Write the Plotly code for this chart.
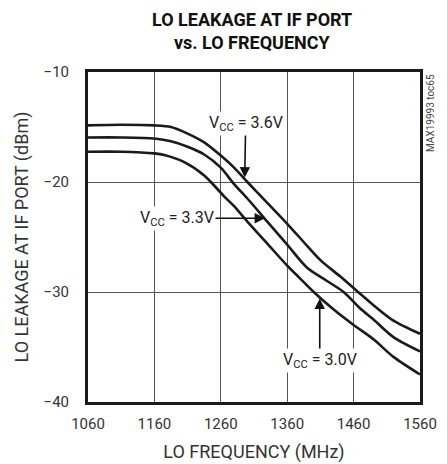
import plotly.graph_objects as go

# LO frequency (MHz) and LO leakage (dBm) per supply voltage
freq_36 = [1060, 1110, 1160, 1185, 1210, 1235, 1260, 1280, 1300, 1330, 1360, 1390, 1410, 1440, 1465, 1490, 1520, 1560]
leak_36 = [-14.85, -14.8, -14.85, -15.0, -15.6, -16.4, -17.6, -18.7, -20.0, -21.9, -23.8, -25.8, -27.1, -28.6, -29.9, -31.2, -32.6, -33.8]

freq_33 = [1060, 1110, 1160, 1185, 1210, 1235, 1260, 1280, 1300, 1330, 1360, 1390, 1420, 1445, 1470, 1490, 1520, 1560]
leak_33 = [-15.95, -15.95, -16.05, -16.3, -16.8, -17.5, -18.7, -20.2, -21.5, -23.6, -25.7, -27.8, -29.0, -30.0, -31.5, -32.5, -34.1, -35.4]

freq_30 = [1060, 1110, 1160, 1175, 1205, 1235, 1245, 1265, 1280, 1300, 1330, 1360, 1380, 1400, 1430, 1460, 1490, 1520, 1560]
leak_30 = [-17.25, -17.25, -17.4, -17.55, -18.2, -19.4, -20.0, -21.3, -22.2, -23.6, -25.6, -27.6, -28.8, -30.0, -31.6, -33.0, -34.3, -35.9, -37.5]

x_ticks = [1060, 1160, 1260, 1360, 1460, 1560]
y_ticks = [-40, -30, -20, -10]

title_lines = ["LO LEAKAGE AT IF PORT", "vs. LO FREQUENCY"]

FONT = "Roboto, Liberation Sans, Arial, sans-serif"

fig = go.Figure()
for fx, fy in [(freq_36, leak_36), (freq_33, leak_33), (freq_30, leak_30)]:
    fig.add_trace(go.Scatter(x=fx, y=fy, mode="lines",
                             line=dict(color="#1a1a1a", width=2.6, shape="spline", smoothing=0.8),
                             showlegend=False, hoverinfo="skip"))

ann_font = dict(family=FONT, size=16, color="#222")
fig.add_annotation(x=1296, y=-19.6, xref="x", yref="y", ax=1, ay=-54,
                   text="V<sub>CC</sub> = 3.6V", showarrow=True, arrowhead=2, arrowsize=1.3,
                   arrowwidth=1.6, arrowcolor="#111", bgcolor="white", font=ann_font, standoff=0)
fig.add_annotation(x=1326.6, y=-23.3, xref="x", yref="y", ax=-88, ay=0,
                   text="V<sub>CC</sub> = 3.3V", showarrow=True, arrowhead=2, arrowsize=1.3,
                   arrowwidth=1.6, arrowcolor="#111", bgcolor="white", font=ann_font, standoff=0)
fig.add_annotation(x=1409, y=-30.6, xref="x", yref="y", ax=0, ay=62,
                   text="V<sub>CC</sub> = 3.0V", showarrow=True, arrowhead=2, arrowsize=1.3,
                   arrowwidth=1.6, arrowcolor="#111", bgcolor="white", font=ann_font, standoff=0)

fig.add_annotation(x=1.03, y=1.0, xref="paper", yref="paper", xanchor="center", yanchor="top",
                   text="MAX19993 toc65", textangle=-90, showarrow=False,
                   font=dict(family=FONT, size=10, color="#444"))

# two-line bold title
for line, yp in zip(title_lines, [1.1576, 1.0879]):
    fig.add_annotation(x=0.495, y=yp, xref="paper", yref="paper", xanchor="center", yanchor="middle",
                       text="<b>" + line + "</b>", showarrow=False,
                       font=dict(family=FONT, size=18, color="#111"))

fig.update_layout(
    width=447, height=464,
    margin=dict(l=88, r=27, t=72, b=62, autoexpand=False),
    paper_bgcolor="white", plot_bgcolor="white",
    font=dict(family=FONT, size=15, color="#333"),
)
fig.update_xaxes(range=[1060, 1560], tickvals=x_ticks, showgrid=True, gridcolor="#555", gridwidth=1,
                 showline=True, linecolor="#1a1a1a", linewidth=3, mirror=True, ticks="",
                 zeroline=False, title=dict(text="LO FREQUENCY (MHz)", standoff=14),
                 tickfont=dict(size=15), ticklabelstandoff=6, automargin=False)
fig.update_yaxes(range=[-40, -10], tickvals=y_ticks, showgrid=True, gridcolor="#555", gridwidth=1,
                 showline=True, linecolor="#1a1a1a", linewidth=3, mirror=True, ticks="",
                 zeroline=False, title=dict(text="LO LEAKAGE AT IF PORT (dBm)", standoff=11),
                 tickfont=dict(size=15), ticklabelstandoff=13, automargin=False)

fig.write_html("out.html", config={"displayModeBar": False},
               post_script="document.body.style.margin='0';")
